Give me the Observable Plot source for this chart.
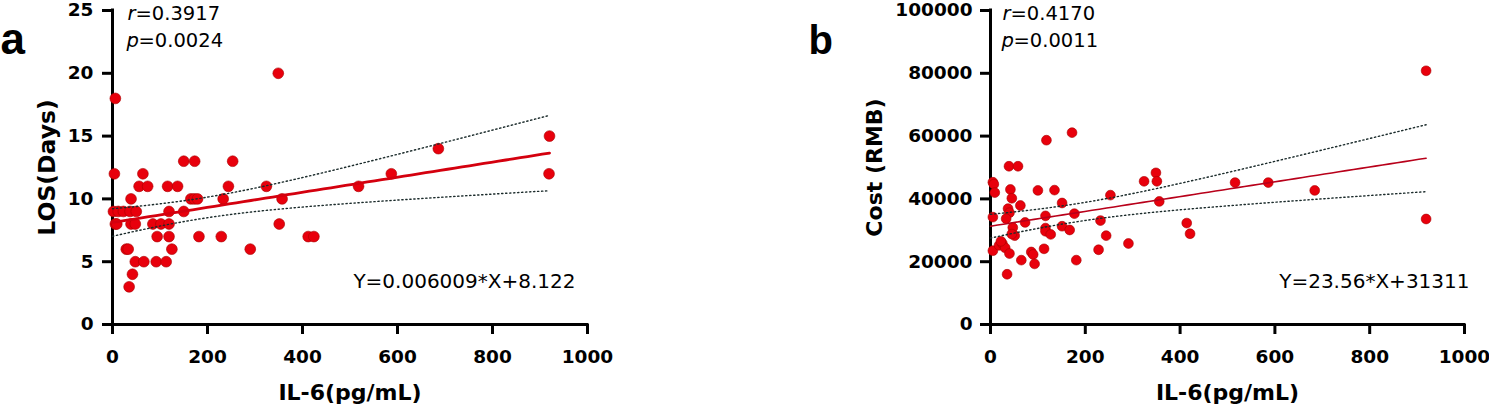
<!DOCTYPE html>
<html><head><meta charset="utf-8">
<script src="https://cdn.jsdelivr.net/npm/d3@7"></script>
<script src="https://cdn.jsdelivr.net/npm/@observablehq/plot@0.6"></script>
<style>
body{margin:0;background:#fff;}
#wrap{position:relative;width:1489px;height:408px;overflow:hidden;background:#fff;}
#pa{position:absolute;left:0;top:0;}
#pb{position:absolute;left:800px;top:0;}
</style></head><body><div id="wrap"><div id="pa"></div><div id="pb"></div></div>
<script>
// ---- Panel a: IL-6 vs LOS (days) ----
const il6A = [6,4,150,173,253,64,56,74,116,137,244,324,39,165,172,179,233,357,2,12,23,37,50,119,150,6,9,39,48,85,102,119,351,94,119,182,229,412,424,29,33,125,290,48,66,92,113,42,35,349,518,587,686,920,919];
const losA = [18,12,13,13,13,12,11,11,11,11,11,11,10,10,10,10,10,10,9,9,9,9,9,9,9,8,8,8,8,8,8,8,8,7,7,7,7,7,7,6,6,6,6,5,5,5,5,4,3,20,11,12,14,15,12];
// ---- Panel b: IL-6 vs cost (RMB) ----
const il6B = [118,172,39,58,5,7,9,42,100,135,45,151,63,37,40,253,324,349,351,356,5,33,73,116,177,232,47,51,116,116,127,151,167,244,291,414,421,5,18,25,31,40,65,86,90,93,113,181,228,35,919,919,516,586,684,22,45];
const costB = [58700,61100,50400,50400,45300,44700,42000,43000,42700,42800,40200,38700,37900,36900,35600,41200,45600,48300,45600,39200,34200,33700,32500,34600,35300,33100,30900,28300,30700,29700,28700,31300,30100,28300,25800,32300,28900,23500,25200,25800,24400,22600,20500,23100,22300,19300,24100,20500,23800,16000,80800,33600,45200,45200,42700,26500,28800];

const xTicks = [0,200,400,600,800,1000];
const yTicksA = [0,5,10,15,20,25];
const yTicksB = [0,20000,40000,60000,80000,100000];
const fitA = {slope: 0.006009, intercept: 8.122};
const fitB = {slope: 23.56, intercept: 31311};
const statsA = {r: "0.3917", p: "0.0024"};
const statsB = {r: "0.4170", p: "0.0011"};
const T975 = 2.006; // t quantile for 95% CI

function bands(xs, ys, fit) {
  const n = xs.length, xbar = d3.mean(xs);
  const sxx = d3.sum(xs, x => (x - xbar) ** 2);
  const s = Math.sqrt(d3.sum(xs, (x, i) => (ys[i] - (fit.intercept + fit.slope * x)) ** 2) / (n - 2));
  const [x0, x1] = [0, d3.max(xs)];
  return d3.range(0, 61).map(k => {
    const x = x0 + (x1 - x0) * k / 60;
    const yh = fit.intercept + fit.slope * x;
    const h = T975 * s * Math.sqrt(1 / n + (x - xbar) ** 2 / sxx);
    return {x, y: yh, lo: yh - h, hi: yh + h};
  });
}

const plain = d => String(d);

function panel(o) {
  const pts = o.xs.map((x, i) => ({x, y: o.ys[i]}));
  const curve = bands(o.xs, o.ys, o.fit);
  return Plot.plot({
    width: o.width, height: 408,
    marginLeft: o.ml, marginRight: o.mr, marginTop: 10, marginBottom: 84,
    x: {domain: [0, 1000]},
    y: {domain: o.yDomain},
    style: {fontFamily: "DejaVu Sans", fontSize: "18px", color: "black", background: "white", overflow: "visible"},
    marks: [
      Plot.axisX(xTicks, {tickSize: 10, tickPadding: 15, strokeWidth: 3, fontSize: 18.5, fontWeight: "bold", tickFormat: plain, label: null}),
      Plot.axisY(o.yTicks, {tickSize: 10, tickPadding: o.ypad, strokeWidth: 3, fontSize: 18.5, fontWeight: "bold", tickFormat: plain, label: null}),
      Plot.ruleY([0], {strokeWidth: 3, strokeLinecap: "square"}),
      Plot.ruleX([0], {strokeWidth: 3, strokeLinecap: "square"}),
      Plot.dot(pts, {x: "x", y: "y", r: o.dotR, fill: "#e8000c", stroke: "#a80000", strokeWidth: 0.6}),
      Plot.line(curve, {x: "x", y: "y", stroke: o.lineColor, strokeWidth: o.lineW}),
      Plot.line(curve, {x: "x", y: "hi", stroke: "#1b2b2b", strokeWidth: 1.4, strokeDasharray: "1.3,2.7"}),
      Plot.line(curve, {x: "x", y: "lo", stroke: "#1b2b2b", strokeWidth: 1.4, strokeDasharray: "1.3,2.7"}),
      Plot.text(["r"], {text: d => d, frameAnchor: "top-left", dx: o.rdx, dy: 9, textAnchor: "start", lineAnchor: "bottom", fontSize: 19.5, fontStyle: "italic"}),
      Plot.text(["=" + o.stats.r], {text: d => d, frameAnchor: "top-left", dx: o.rdx + 8, dy: 9, textAnchor: "start", lineAnchor: "bottom", fontSize: 19.5}),
      Plot.text(["p"], {text: d => d, frameAnchor: "top-left", dx: o.rdx - 1, dy: 36, textAnchor: "start", lineAnchor: "bottom", fontSize: 19.5, fontStyle: "italic"}),
      Plot.text(["=" + o.stats.p], {text: d => d, frameAnchor: "top-left", dx: o.rdx + 11, dy: 36, textAnchor: "start", lineAnchor: "bottom", fontSize: 19.5}),
      Plot.text([o.eq], {text: d => d, frameAnchor: "top-right", dx: o.eqdx, dy: 277, textAnchor: "end", lineAnchor: "bottom", fontSize: 20}),
      Plot.text(["IL-6(pg/mL)"], {text: d => d, frameAnchor: "bottom", dy: 75, lineAnchor: "bottom", fontSize: 22, fontWeight: "bold"}),
      Plot.text([o.yLabel], {text: d => d, frameAnchor: "left", rotate: -90, dx: o.ylx, lineAnchor: "bottom", textAnchor: "middle", fontSize: o.ylsize, fontWeight: "bold"}),
      Plot.text([o.letter], {text: d => d, frameAnchor: "top-left", dx: o.ldx, dy: 43, textAnchor: "start", lineAnchor: "bottom", fontSize: o.lsize, fontWeight: "bold", fontFamily: "Liberation Sans"})
    ]
  });
}

document.getElementById("pa").append(panel({
  xs: il6A, ys: losA, fit: fitA, stats: statsA, width: 620, ml: 112, mr: 33,
  yDomain: [0, 25], yTicks: yTicksA, ypad: 9, dotR: 5.4, lineColor: "#d4000e", lineW: 2.8,
  rdx: 15, eq: "Y=0.006009*X+8.122", eqdx: -12, yLabel: "LOS(Days)", ylx: -58, ylsize: 23.5,
  letter: "a", ldx: -112, lsize: 44
}));
document.getElementById("pb").append(panel({
  xs: il6B, ys: costB, fit: fitB, stats: statsB, width: 689, ml: 190, mr: 25,
  yDomain: [0, 100000], yTicks: yTicksB, ypad: 8, dotR: 4.9, lineColor: "#b8001a", lineW: 1.6,
  rdx: 12, eq: "Y=23.56*X+31311", eqdx: 5, yLabel: "Cost (RMB)", ylx: -109, ylsize: 22,
  letter: "b", ldx: -182, lsize: 40
}));
</script></body></html>
